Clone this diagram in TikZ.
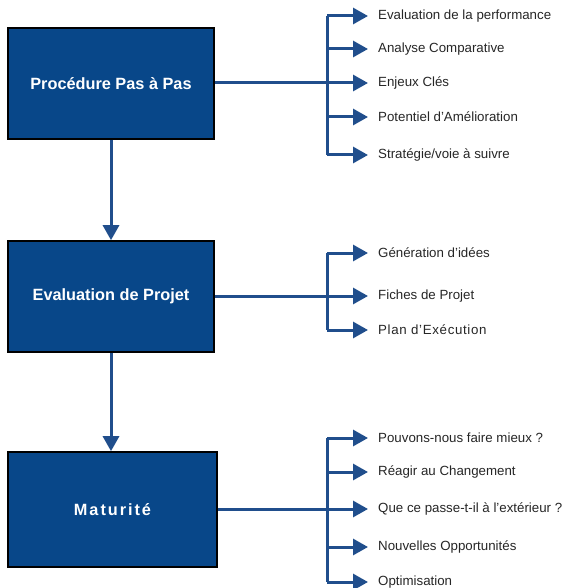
\documentclass[tikz,border=0pt]{standalone}
\usepackage{fontspec}
\setmainfont{Liberation Sans}
\usetikzlibrary{arrows.meta}
\definecolor{boxblue}{RGB}{8,71,137}
\definecolor{lineblue}{RGB}{32,78,140}
\tikzset{
  phase/.style={draw=black, line width=1.6pt, fill=boxblue, text=white,
    minimum width=206pt, minimum height=111pt, inner sep=0pt,
    font=\fontsize{16.3}{19}\selectfont\bfseries},
  item/.style={anchor=west, inner xsep=10pt, inner ysep=0pt,
    font=\fontsize{13.3}{15}\selectfont, text=black!85},
  conn/.style={draw=lineblue, line width=3pt},
  tip/.style={-{Triangle[length=15pt,width=16pt]}},
}
\begin{document}
\begin{tikzpicture}[x=1pt, y=-1pt]
\useasboundingbox (0,0) rectangle (572,588);

% three phase boxes
\node[phase] (p1) at (111,83.5) {Procédure Pas à Pas};
\node[phase] (p2) at (111,296.5) {Evaluation de Projet};
\node[phase, minimum width=209pt, minimum height=115pt] (p3) at (112.5,509.5)
  {\addfontfeature{LetterSpace=12}Maturité};

% arrows between phases
\draw[conn, tip] (p1.south) -- (p1.south |- p2.north);
\draw[conn, tip] (p2.south) -- (p2.south |- p3.north);

% bracket x positions
\coordinate (b1) at (327,83);
\coordinate (b2) at (327,296);
\coordinate (b3) at (327,509);

% first group
\node[item] (a1) at (368,16)  {Evaluation de la performance};
\node[item] (a2) at (368,49)  {Analyse Comparative};
\node[item] (a3) at (368,83)  {Enjeux Clés};
\node[item] (a4) at (368,117) {Potentiel d'Amélioration};
\node[item] (a5) at (368,155) {Stratégie/voie à suivre};
\draw[conn] (p1.east |- b1) -- (b1);
\draw[conn] (a1.west -| b1) -- (a5.west -| b1);
\foreach \n in {a1,a2,a3,a4,a5}
  \draw[conn, tip] (\n.west -| b1) -- (\n.west);

% second group
\node[item] (c1) at (368,253) {Génération d'idées};
\node[item] (c2) at (368,296) {Fiches de Projet};
\node[item] (c3) at (368,330) {\addfontfeature{LetterSpace=5}Plan d’Exécution};
\draw[conn] (p2.east |- b2) -- (b2);
\draw[conn] (c1.west -| b2) -- (c3.west -| b2);
\foreach \n in {c1,c2,c3}
  \draw[conn, tip] (\n.west -| b2) -- (\n.west);

% third group
\node[item] (d1) at (368,438) {Pouvons-nous faire mieux ?};
\node[item] (d2) at (368,472) {Réagir au Changement};
\node[item] (d3) at (368,509) {Que ce passe-t-il à l’extérieur ?};
\node[item] (d4) at (368,547) {Nouvelles Opportunités};
\node[item] (d5) at (368,582) {Optimisation};
\draw[conn] (p3.east |- b3) -- (b3);
\draw[conn] (d1.west -| b3) -- (d5.west -| b3);
\foreach \n in {d1,d2,d3,d4,d5}
  \draw[conn, tip] (\n.west -| b3) -- (\n.west);
\end{tikzpicture}
\end{document}
